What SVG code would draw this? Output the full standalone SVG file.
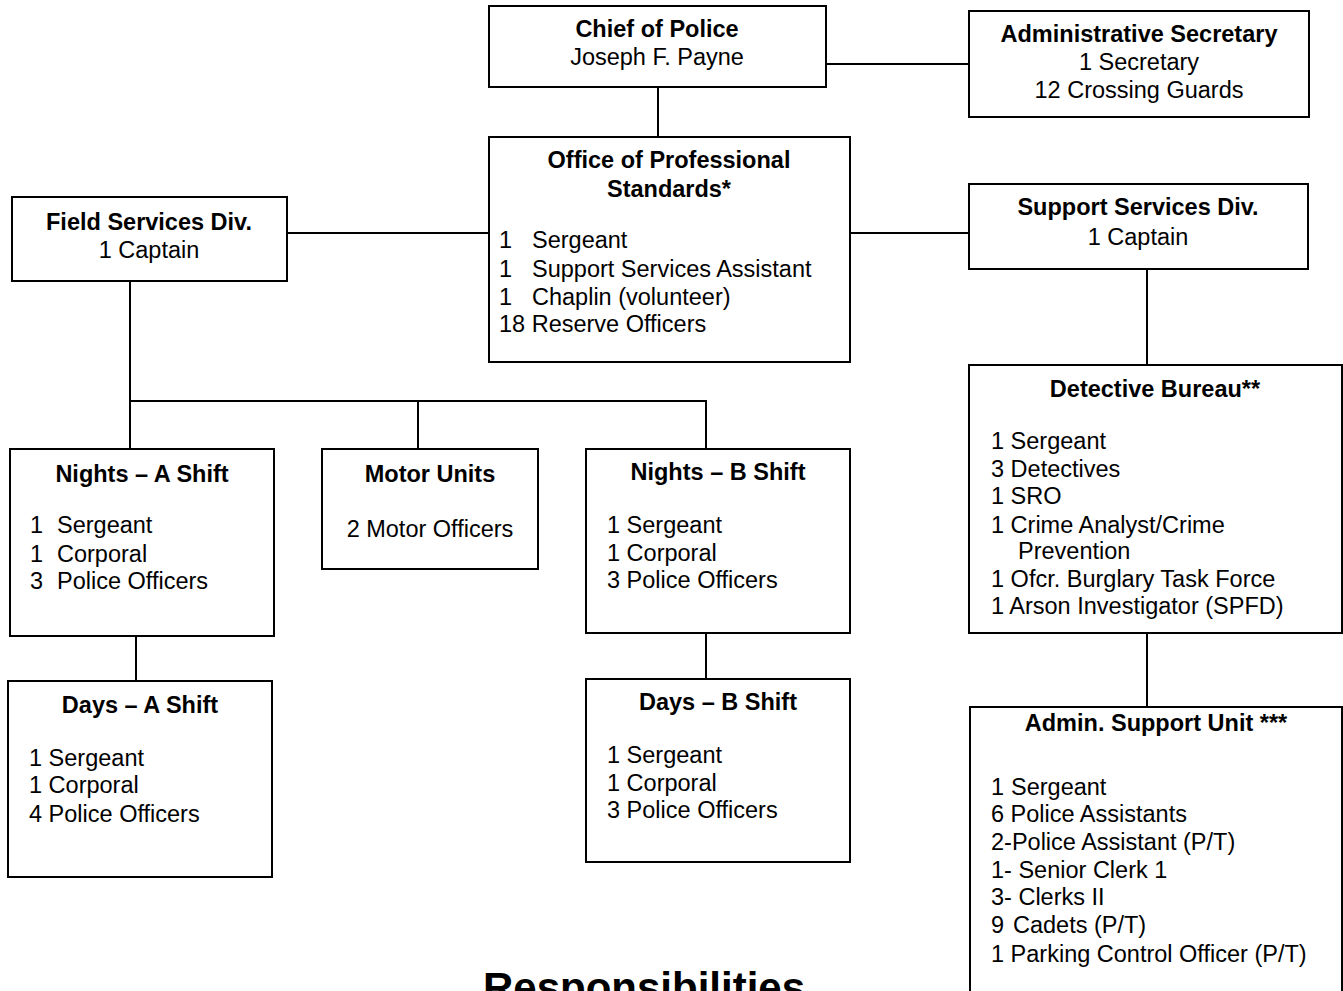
<svg xmlns="http://www.w3.org/2000/svg" width="1343" height="991" viewBox="0 0 1343 991">
<style>
rect{fill:#fff;stroke:#000;stroke-width:2}
line{stroke:#000;stroke-width:2}
text{font-family:"Liberation Sans",Arial,sans-serif;font-size:23.5px;fill:#000}
.t{font-weight:bold;text-anchor:middle}
.c{text-anchor:middle}
.big{font-weight:bold;font-size:42px;text-anchor:middle}
</style>
<rect x="0" y="0" width="1343" height="991" style="stroke:none"/>
<g id="connectors">
<line x1="826" y1="64" x2="969" y2="64"/>
<line x1="658" y1="87" x2="658" y2="137"/>
<line x1="287" y1="233" x2="489" y2="233"/>
<line x1="850" y1="233" x2="969" y2="233"/>
<line x1="1147" y1="269" x2="1147" y2="365"/>
<line x1="1147" y1="633" x2="1147" y2="707"/>
<line x1="130" y1="281" x2="130" y2="449"/>
<line x1="130" y1="401" x2="707" y2="401"/>
<line x1="418" y1="401" x2="418" y2="449"/>
<line x1="706" y1="401" x2="706" y2="449"/>
<line x1="136" y1="636" x2="136" y2="681"/>
<line x1="706" y1="633" x2="706" y2="679"/>
</g>
<g id="chief">
<rect x="489" y="6" width="337" height="81"/>
<text class="t" x="657" y="37">Chief of Police</text>
<text class="c" x="657" y="65">Joseph F. Payne</text>
</g>
<g id="admin-secretary">
<rect x="969" y="11" width="340" height="106"/>
<text class="t" x="1139" y="42">Administrative Secretary</text>
<text class="c" x="1139" y="70">1 Secretary</text>
<text class="c" x="1139" y="98">12 Crossing Guards</text>
</g>
<g id="ops">
<rect x="489" y="137" width="361" height="225"/>
<text class="t" x="669" y="168">Office of Professional</text>
<text class="t" x="669" y="197">Standards*</text>
<text x="499" y="248">1<tspan x="532">Sergeant</tspan></text>
<text x="499" y="277">1<tspan x="532">Support Services Assistant</tspan></text>
<text x="499" y="305">1<tspan x="532">Chaplin (volunteer)</tspan></text>
<text x="499" y="332">18 Reserve Officers</text>
</g>
<g id="field-services">
<rect x="12" y="197" width="275" height="84"/>
<text class="t" x="149" y="230">Field Services Div.</text>
<text class="c" x="149" y="258">1 Captain</text>
</g>
<g id="support-services">
<rect x="969" y="184" width="339" height="85"/>
<text class="t" x="1138" y="215">Support Services Div.</text>
<text class="c" x="1138" y="245">1 Captain</text>
</g>
<g id="detective-bureau">
<rect x="969" y="365" width="373" height="268"/>
<text class="t" x="1155" y="397">Detective Bureau**</text>
<text x="991" y="449">1 Sergeant</text>
<text x="991" y="477">3 Detectives</text>
<text x="991" y="504">1 SRO</text>
<text x="991" y="533">1 Crime Analyst/Crime</text>
<text x="1018" y="559">Prevention</text>
<text x="991" y="587">1 Ofcr. Burglary Task Force</text>
<text x="991" y="614">1 Arson Investigator (SPFD)</text>
</g>
<g id="admin-support-unit">
<rect x="970" y="707" width="372" height="300"/>
<text class="t" x="1156" y="731">Admin. Support Unit ***</text>
<text x="991" y="795">1<tspan x="1011">Sergeant</tspan></text>
<text x="991" y="822">6 Police Assistants</text>
<text x="991" y="850">2-Police Assistant (P/T)</text>
<text x="991" y="878">1- Senior Clerk 1</text>
<text x="991" y="905">3- Clerks II</text>
<text x="991" y="933">9<tspan x="1013">Cadets (P/T)</tspan></text>
<text x="991" y="962">1 Parking Control Officer (P/T)</text>
</g>
<g id="nights-a">
<rect x="10" y="449" width="264" height="187"/>
<text class="t" x="142" y="482">Nights – A Shift</text>
<text x="30" y="533">1<tspan x="57">Sergeant</tspan></text>
<text x="30" y="562">1<tspan x="57">Corporal</tspan></text>
<text x="30" y="589">3<tspan x="57">Police Officers</tspan></text>
</g>
<g id="days-a">
<rect x="8" y="681" width="264" height="196"/>
<text class="t" x="140" y="713">Days – A Shift</text>
<text x="29" y="766">1 Sergeant</text>
<text x="29" y="793">1 Corporal</text>
<text x="29" y="822">4 Police Officers</text>
</g>
<g id="motor-units">
<rect x="322" y="449" width="216" height="120"/>
<text class="t" x="430" y="482">Motor Units</text>
<text class="c" x="430" y="537">2 Motor Officers</text>
</g>
<g id="nights-b">
<rect x="586" y="449" width="264" height="184"/>
<text class="t" x="718" y="480">Nights – B Shift</text>
<text x="607" y="533">1 Sergeant</text>
<text x="607" y="561">1 Corporal</text>
<text x="607" y="588">3 Police Officers</text>
</g>
<g id="days-b">
<rect x="586" y="679" width="264" height="183"/>
<text class="t" x="718" y="710">Days – B Shift</text>
<text x="607" y="763">1 Sergeant</text>
<text x="607" y="791">1 Corporal</text>
<text x="607" y="818">3 Police Officers</text>
</g>
<text class="big" x="644" y="1002">Responsibilities</text>
</svg>
